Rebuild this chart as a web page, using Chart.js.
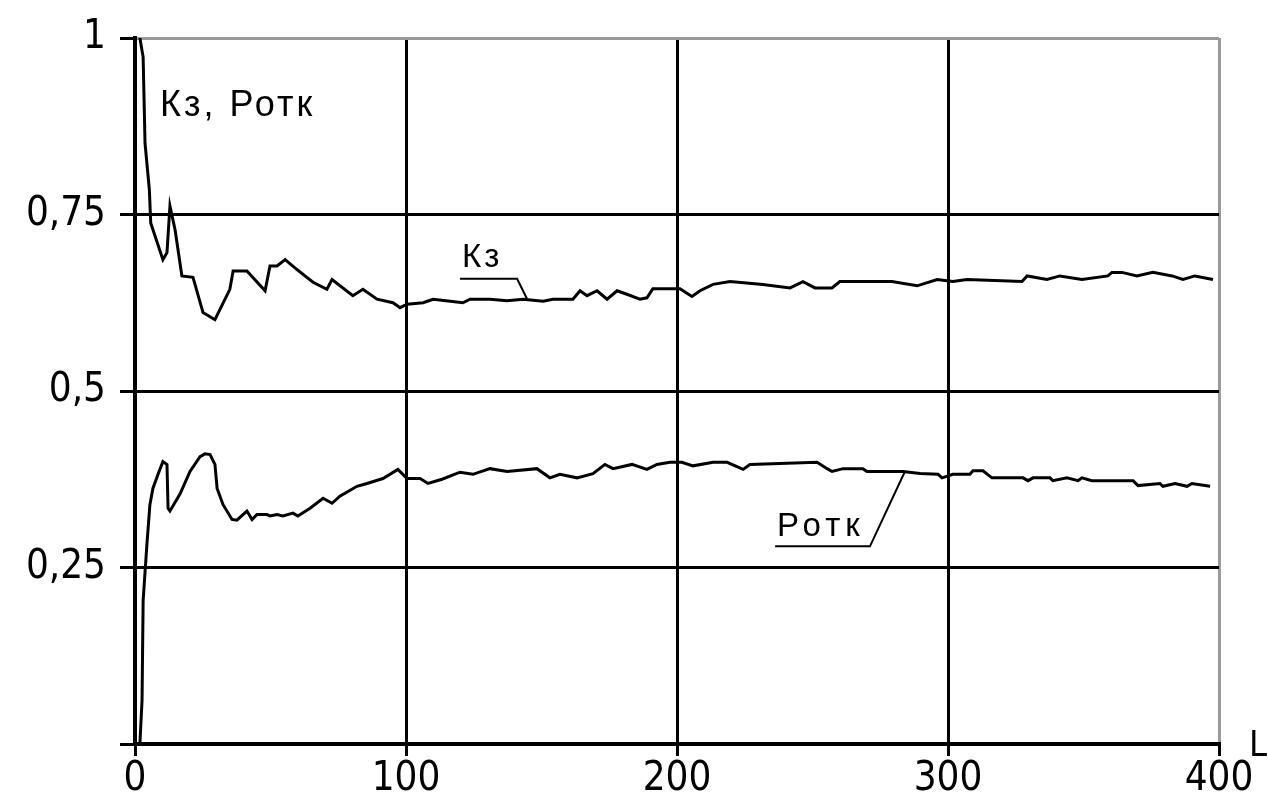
<!DOCTYPE html>
<html lang="ru">
<head>
<meta charset="UTF-8">
<title>Кз, Ротк</title>
<script src="https://cdn.jsdelivr.net/npm/chart.js@4.4.1/dist/chart.umd.min.js"></script>
<style>
    body { margin: 0; background: #fff; }
</style>
</head>
<body>
<canvas id="kzChart" width="1268" height="809"></canvas>
<script>
    // Кз curve
    const kzX = [1.8, 3, 3.7, 5.3, 5.8, 10.3, 11.8, 12.9, 14.8, 17.3, 21.4, 25.1, 29.5, 35, 36.2, 41.3, 48, 49.8, 52.4, 55.4,
        59.8, 65.7, 70.8, 72.7, 80.4, 84.1, 89.3, 95.2, 97.8, 100.4, 106.3, 110, 121, 123.6, 131, 137.3, 143.2, 150.6, 154.2, 161.6,
        164.2, 166.8, 170.5, 174.2, 177.9, 181.5, 186.3, 188.9, 191.1, 201.1, 205.5, 208.5, 213.3, 219.6, 231.7, 241.7, 246.5, 250.9, 257.2, 260.1,
        270.1, 279.3, 288.6, 296, 301.8, 307, 327.3, 329.2, 336.5, 341.3, 349.4, 359, 360.5, 364.2, 369.7, 375.6, 382.7, 386.7, 391.1, 397.8];
    const kzY = [1.0, 0.973, 0.851, 0.785, 0.738, 0.686, 0.696, 0.762, 0.728, 0.663, 0.661, 0.611, 0.601, 0.644, 0.670, 0.670, 0.642, 0.677, 0.677, 0.686,
        0.672, 0.654, 0.644, 0.658, 0.635, 0.644, 0.630, 0.625, 0.618, 0.623, 0.625, 0.630, 0.625, 0.630, 0.630, 0.628, 0.630, 0.627, 0.630, 0.630,
        0.642, 0.635, 0.642, 0.630, 0.642, 0.637, 0.630, 0.632, 0.645, 0.645, 0.634, 0.642, 0.651, 0.655, 0.651, 0.646, 0.655, 0.646, 0.646, 0.655,
        0.655, 0.655, 0.649, 0.658, 0.655, 0.658, 0.655, 0.663, 0.658, 0.663, 0.658, 0.663, 0.668, 0.668, 0.663, 0.668, 0.663, 0.658, 0.663, 0.658];

    // Ротк curve
    const potkX = [1.8, 2.6, 3.0, 4.4, 5.5, 6.6, 8.5, 10.3, 11.8, 12.2, 12.9, 16.6, 20.3, 24, 25.8, 27.7, 29.5, 30.3, 32.5, 35.8,
        37.6, 41.3, 43.2, 45, 48.7, 49.8, 52.4, 54.6, 58.3, 60.1, 64.6, 69.4, 72.7, 75.6, 81.9, 85.6, 91.5, 97, 100.4, 105.2,
        108.1, 113.3, 119.9, 124.7, 131, 137.3, 148.3, 153.1, 156.8, 163.1, 169, 173.4, 176.4, 183.4, 188.9, 192.6, 197.4, 201.8, 205.9, 213.3,
        218.5, 224.4, 226.9, 251.7, 255.4, 257.2, 261.3, 268.6, 270.1, 283.4, 289.7, 296.3, 297.8, 301.8, 308.1, 309.2, 312.9, 316.2, 327.7, 329.5,
        331.4, 337.6, 338.7, 343.9, 348, 349.4, 353.1, 368.3, 370.1, 378.2, 379.3, 383.8, 388.2, 390, 396.7];
    const potkY = [0.0, 0.062, 0.203, 0.283, 0.339, 0.362, 0.382, 0.400, 0.396, 0.334, 0.330, 0.354, 0.386, 0.407, 0.411, 0.410, 0.396, 0.362, 0.339, 0.318,
        0.317, 0.330, 0.318, 0.325, 0.325, 0.323, 0.325, 0.323, 0.327, 0.323, 0.334, 0.348, 0.341, 0.351, 0.365, 0.369, 0.376, 0.389, 0.376, 0.376,
        0.369, 0.375, 0.385, 0.382, 0.390, 0.386, 0.390, 0.377, 0.382, 0.377, 0.383, 0.396, 0.390, 0.396, 0.389, 0.396, 0.399, 0.399, 0.394, 0.399,
        0.399, 0.389, 0.396, 0.399, 0.390, 0.386, 0.390, 0.390, 0.386, 0.386, 0.383, 0.382, 0.377, 0.382, 0.382, 0.387, 0.387, 0.377, 0.377, 0.373,
        0.377, 0.377, 0.373, 0.377, 0.373, 0.377, 0.373, 0.373, 0.366, 0.369, 0.365, 0.369, 0.365, 0.369, 0.365];

    const xTicks = [0, 100, 200, 300, 400];
    const yTicks = [0, 0.25, 0.5, 0.75, 1];

    const tickFont = { family: "'Liberation Sans Narrow', 'DejaVu Sans Condensed', sans-serif", size: 40 };
    const textFont = "36px 'Liberation Sans', Arial, sans-serif";
    const smallFont = "33px 'Liberation Sans', Arial, sans-serif";

    function toPoints(xs, ys) {
        return xs.map((x, i) => ({ x: x, y: ys[i] }));
    }

    // подписи кривых и выноски
    const labelsPlugin = {
        id: "curveLabels",
        afterDraw(chart) {
            const ctx = chart.ctx;
            const sx = chart.scales.x, sy = chart.scales.y;
            const px = v => sx.getPixelForValue(v);
            const py = v => sy.getPixelForValue(v);
            ctx.save();
            ctx.fillStyle = "#000";
            ctx.strokeStyle = "#000";
            ctx.textBaseline = "alphabetic";
            ctx.textAlign = "left";

            ctx.font = textFont;
            ctx.letterSpacing = "3px";
            ctx.fillText("Кз, Ротк", px(9.2), py(0.89));

            ctx.font = smallFont;
            ctx.letterSpacing = "3px";
            ctx.fillText("Кз", px(120.7), py(0.676));
            ctx.lineWidth = 2;
            ctx.beginPath();
            ctx.moveTo(px(119.9), py(0.659));
            ctx.lineTo(px(141), py(0.659));
            ctx.lineTo(px(144.6), py(0.631));
            ctx.stroke();

            ctx.letterSpacing = "5px";
            ctx.fillText("Ротк", px(236.9), py(0.294));
            ctx.beginPath();
            ctx.moveTo(px(236.2), py(0.28));
            ctx.lineTo(px(271.2), py(0.28));
            ctx.lineTo(px(284.1), py(0.386));
            ctx.stroke();

            ctx.letterSpacing = "0px";
            ctx.font = "36px " + tickFont.family;
            ctx.fillText("L", chart.chartArea.right + 30, chart.chartArea.bottom + 12);
            ctx.restore();
        }
    };

    const kzCtx = document.getElementById("kzChart").getContext("2d");
    const kzChart = new Chart(kzCtx, {
        type: "line",
        data: {
            datasets: [
                { label: "Кз", data: toPoints(kzX, kzY), borderColor: "#000", borderWidth: 3, pointRadius: 0, tension: 0, fill: false },
                { label: "Ротк", data: toPoints(potkX, potkY), borderColor: "#000", borderWidth: 3, pointRadius: 0, tension: 0, fill: false }
            ]
        },
        options: {
            responsive: false,
            animation: false,
            devicePixelRatio: 1,
            layout: { padding: { left: 0, right: 49, top: 34, bottom: 0 } },
            plugins: { legend: { display: false }, tooltip: { enabled: false } },
            scales: {
                x: {
                    type: "linear",
                    min: 0,
                    max: 400,
                    afterBuildTicks: s => { s.ticks = xTicks.map(v => ({ value: v })); },
                    afterFit: s => { s.height = 65; },
                    ticks: { color: "#000", font: tickFont, padding: 0, maxRotation: 0 },
                    grid: {
                        color: c => (c.tick && c.tick.value === 400 ? "#9a9a9a" : "#000"),
                        lineWidth: 3,
                        tickLength: 12,
                        tickColor: "#000"
                    },
                    border: { color: "#000", width: 4 }
                },
                y: {
                    min: 0,
                    max: 1,
                    afterBuildTicks: s => { s.ticks = yTicks.map(v => ({ value: v })); },
                    afterFit: s => { s.width = 135; },
                    ticks: {
                        color: "#000",
                        font: tickFont,
                        padding: 14,
                        callback: v => (v === 0 ? "" : String(v).replace(".", ","))
                    },
                    grid: {
                        color: c => (c.tick && c.tick.value === 1 ? "#9a9a9a" : "#000"),
                        lineWidth: 3,
                        tickLength: 15,
                        tickColor: "#000"
                    },
                    border: { color: "#000", width: 4 }
                }
            }
        },
        plugins: [labelsPlugin]
    });
</script>
</body>
</html>
